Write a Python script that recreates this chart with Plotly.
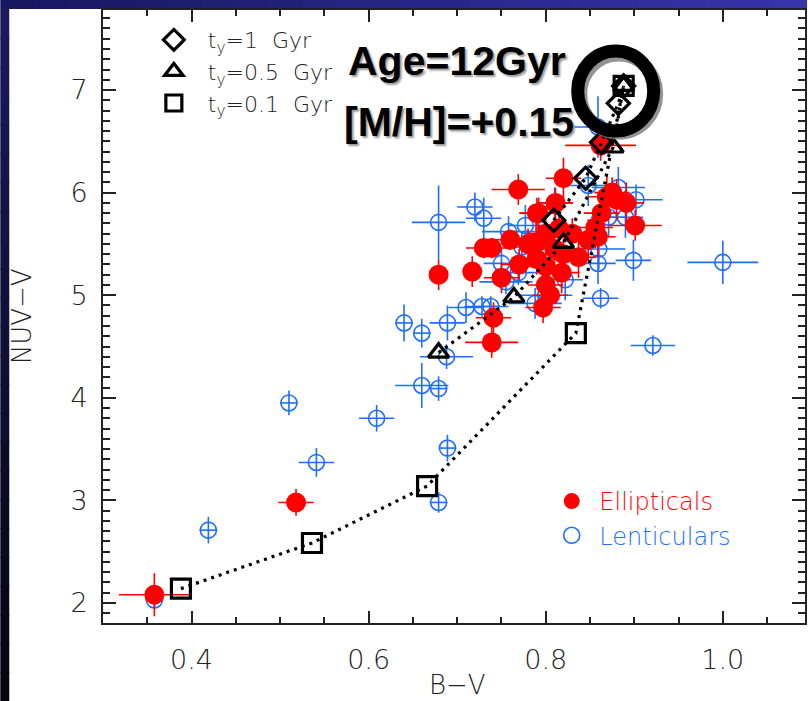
import plotly.graph_objects as go

# ---- observed galaxies: B-V, NUV-V and their 1-sigma errors ----
ell_bv = [0.358, 0.518, 0.679, 0.717, 0.769, 0.750, 0.730, 0.739, 0.760, 0.741,
          0.739, 0.790, 0.797, 0.862, 0.820, 0.880, 0.891, 0.901, 0.863, 0.856,
          0.848, 0.811, 0.792, 0.789, 0.800, 0.818, 0.859, 0.869, 0.837, 0.810,
          0.800, 0.790, 0.820, 0.830, 0.780, 0.800, 0.770, 0.875, 0.815, 0.805]
ell_nuv = [2.08, 2.98, 5.20, 5.23, 6.03, 5.17, 5.46, 5.46, 5.54, 4.78,
           4.54, 5.80, 4.88, 6.46, 6.14, 5.93, 5.90, 5.68, 5.80, 5.66,
           5.54, 5.90, 5.80, 5.51, 5.28, 5.22, 5.57, 5.96, 5.37, 5.45,
           5.60, 5.35, 5.40, 5.60, 5.50, 5.10, 5.30, 6.00, 5.65, 5.00]
ell_bv_err = [0.04, 0.02, 0.01, 0.01, 0.03, 0.02, 0.02, 0.02, 0.03, 0.02,
              0.03, 0.02, 0.02, 0.04, 0.02, 0.02, 0.02, 0.03, 0.02, 0.02,
              0.02, 0.02, 0.02, 0.03, 0.02, 0.02, 0.02, 0.02, 0.02, 0.02,
              0.02, 0.02, 0.02, 0.02, 0.02, 0.02, 0.02, 0.02, 0.02, 0.02]
ell_nuv_err = [0.21, 0.13, 0.15, 0.15, 0.15, 0.15, 0.10, 0.10, 0.10, 0.15,
               0.15, 0.15, 0.15, 0.15, 0.20, 0.20, 0.20, 0.15, 0.20, 0.20,
               0.20, 0.15, 0.15, 0.20, 0.20, 0.20, 0.20, 0.20, 0.20, 0.15,
               0.15, 0.15, 0.15, 0.15, 0.15, 0.15, 0.15, 0.15, 0.15, 0.15]

len_bv = [0.358, 0.419, 0.510, 0.541, 0.609, 0.640, 0.660, 0.689, 0.710, 0.688,
          0.660, 0.679, 0.689, 0.679, 0.679, 0.720, 0.730, 0.728, 0.738, 0.758,
          0.750, 0.755, 0.773, 0.777, 0.788, 0.769, 0.882, 0.902, 0.899, 0.859,
          0.822, 0.862, 0.871, 0.890, 0.859, 1.000, 0.921, 0.848, 0.800, 0.810,
          0.860]
len_nuv = [2.03, 2.71, 3.95, 3.37, 3.80, 4.73, 4.63, 4.73, 4.88, 4.40,
           4.12, 4.09, 3.51, 2.98, 5.71, 5.86, 5.75, 4.89, 4.89, 5.62,
           5.31, 5.13, 5.47, 5.68, 4.92, 5.22, 6.05, 5.93, 5.34, 5.31,
           5.15, 4.97, 5.76, 5.76, 6.64, 5.32, 4.51, 6.07, 5.00, 5.90,
           5.45]
len_bv_err = [0.01, 0.01, 0.01, 0.02, 0.02, 0.01, 0.01, 0.02, 0.02, 0.03,
              0.03, 0.01, 0.01, 0.01, 0.03, 0.02, 0.02, 0.02, 0.02, 0.03,
              0.02, 0.03, 0.02, 0.02, 0.03, 0.02, 0.03, 0.03, 0.02, 0.02,
              0.02, 0.02, 0.02, 0.02, 0.03, 0.04, 0.025, 0.02, 0.03, 0.02,
              0.03]
len_nuv_err = [0.08, 0.13, 0.12, 0.14, 0.13, 0.18, 0.14, 0.17, 0.15, 0.12,
               0.22, 0.12, 0.13, 0.10, 0.36, 0.14, 0.20, 0.10, 0.10, 0.15,
               0.15, 0.12, 0.15, 0.20, 0.15, 0.12, 0.20, 0.15, 0.20, 0.20,
               0.20, 0.10, 0.20, 0.20, 0.30, 0.21, 0.10, 0.20, 0.10, 0.15,
               0.20]

# ---- model tracks: 12 Gyr, [M/H]=+0.15 old population plus a young burst ----
trk1_bv = [0.809, 0.845, 0.863, 0.882, 0.888]    # t_y = 1 Gyr
trk1_nuv = [5.73, 6.14, 6.49, 6.87, 7.04]
trk05_bv = [0.679, 0.764, 0.820, 0.876, 0.888]   # t_y = 0.5 Gyr
trk05_nuv = [4.44, 4.98, 5.51, 6.44, 7.04]
trk01_bv = [0.388, 0.536, 0.666, 0.834, 0.888]   # t_y = 0.1 Gyr
trk01_nuv = [2.14, 2.585, 3.14, 4.63, 7.04]

# pure old-population point that the tracks converge to
old_bv, old_nuv = 0.879, 6.99

RED = "#ff0000"
BLUE = "#1e6eff"
INK = "#222222"
TXT = "DejaVu Sans"
NB = "\u00a0"

fig = go.Figure()

fig.add_trace(go.Scatter(
    x=len_bv, y=len_nuv, mode="markers",
    name=f"{NB}<span style='color:{BLUE}'>Lenticulars</span>",
    legend="legend2",
    marker=dict(symbol="circle-open", size=16, color=BLUE, line=dict(width=1.6, color=BLUE)),
    error_x=dict(type="data", array=len_bv_err, color=BLUE, thickness=1.6, width=0),
    error_y=dict(type="data", array=len_nuv_err, color=BLUE, thickness=1.6, width=0),
))
fig.add_trace(go.Scatter(
    x=ell_bv, y=ell_nuv, mode="markers",
    name=f"{NB}<span style='color:{RED}'>Ellipticals</span>",
    legend="legend2",
    marker=dict(symbol="circle", size=20, color=RED, line=dict(width=0)),
    error_x=dict(type="data", array=ell_bv_err, color=RED, thickness=1.6, width=0),
    error_y=dict(type="data", array=ell_nuv_err, color=RED, thickness=1.6, width=0),
))

tracks = [
    (trk1_bv, trk1_nuv, "diamond-open", 17, f"{NB*2}t<sub>y</sub>=1{NB*2}Gyr"),
    (trk05_bv, trk05_nuv, "triangle-up-open", 18, f"{NB*2}t<sub>y</sub>=0.5{NB*2}Gyr"),
    (trk01_bv, trk01_nuv, "square-open", 19, f"{NB*2}t<sub>y</sub>=0.1{NB*2}Gyr"),
]
for bv, nuv, sym, sz, label in tracks:
    fig.add_trace(go.Scatter(
        x=bv, y=nuv, mode="lines", showlegend=False,
        line=dict(color="black", width=3.2, dash="3px,5px"),
    ))
for bv, nuv, sym, sz, label in tracks:
    fig.add_trace(go.Scatter(
        x=bv, y=nuv, mode="markers", name=label, legend="legend",
        marker=dict(symbol=sym, size=sz, color="black", line=dict(width=3.2, color="black")),
    ))

# slide background: white panel framed by blue bands
def px_x(p):
    return (p - 103) / 704.0

def px_y(p):
    return (623 - p) / 613.0

shapes = []
n = 24
for i in range(n):
    t = i / (n - 1)
    r = int(24 + t * (54 - 24)); g = int(24 + t * (52 - 24)); b = int(96 + t * (170 - 96))
    shapes.append(dict(type="rect", xref="paper", yref="paper", layer="below",
                       x0=px_x(808 * i / n), x1=px_x(808 * (i + 1) / n + 1),
                       y0=px_y(9), y1=px_y(0), line=dict(width=0),
                       fillcolor=f"rgb({r},{g},{b})"))
for i in range(n):
    t = i / (n - 1)
    r = int(26 - t * 21); g = int(26 - t * 21); b = int(92 - t * 76)
    shapes.append(dict(type="rect", xref="paper", yref="paper", layer="below",
                       x0=px_x(0), x1=px_x(9),
                       y0=px_y(9 + 692 * (i + 1) / n + 1), y1=px_y(9 + 692 * i / n),
                       line=dict(width=0), fillcolor=f"rgb({r},{g},{b})"))

# highlight ring around the old-population point (with soft shadow)
shapes.append(dict(type="circle", xref="x", yref="y", xsizemode="pixel", ysizemode="pixel",
                   xanchor=old_bv, yanchor=old_nuv, x0=-35, x1=41, y0=-42, y1=36,
                   line=dict(color="rgba(120,120,120,0.8)", width=13), layer="above"))
shapes.append(dict(type="circle", xref="x", yref="y", xsizemode="pixel", ysizemode="pixel",
                   xanchor=old_bv, yanchor=old_nuv, x0=-38, x1=38, y0=-40, y1=40,
                   line=dict(color="black", width=13), layer="above"))

annotations = [
    dict(text="Age=12Gyr", xref="paper", yref="paper", x=px_x(458), y=px_y(61),
         xanchor="center", yanchor="middle", showarrow=False,
         font=dict(family="Liberation Sans", size=41, color="black", weight="bold",
                   shadow="2px 2px 2px #999")),
    dict(text="[M/H]=+0.15", xref="paper", yref="paper", x=px_x(460), y=px_y(122),
         xanchor="center", yanchor="middle", showarrow=False,
         font=dict(family="Liberation Sans", size=41, color="black", weight="bold",
                   shadow="2px 2px 2px #999")),
    dict(text="B\u2212V", xref="paper", yref="paper", x=px_x(459), y=px_y(685),
         xanchor="center", yanchor="middle", showarrow=False,
         font=dict(family=TXT, size=26, color=INK, weight=200)),
    dict(text="NUV\u2212V", xref="paper", yref="paper", x=px_x(22), y=px_y(316),
         xanchor="center", yanchor="middle", showarrow=False, textangle=-90,
         font=dict(family=TXT, size=26, color=INK, weight=200)),
]

axis_common = dict(
    showgrid=False, zeroline=False, showline=True, linecolor=INK, linewidth=2,
    mirror="allticks", ticks="inside", tickcolor=INK, tickwidth=1.6,
    tickfont=dict(family=TXT, size=27, color=INK, weight=200),
)

fig.update_layout(
    width=808, height=701,
    margin=dict(l=103, r=1, t=10, b=78),
    paper_bgcolor="white", plot_bgcolor="white",
    xaxis=dict(range=[0.3, 1.0928], tick0=0.4, dtick=0.2, tickformat=".1f", ticklen=12,
               minor=dict(dtick=0.05, ticks="inside", ticklen=6, tickcolor=INK, tickwidth=1.6),
               ticklabelstandoff=12, **axis_common),
    yaxis=dict(range=[1.805, 7.78], tick0=0, dtick=1, ticklen=13,
               minor=dict(dtick=0.1, ticks="inside", ticklen=7, tickcolor=INK, tickwidth=1.6),
               ticklabelstandoff=8, **axis_common),
    legend=dict(x=px_x(154), y=px_y(19), xanchor="left", yanchor="top",
                bgcolor="rgba(0,0,0,0)", tracegroupgap=0, itemsizing="trace",
                font=dict(family=TXT, size=22, color=INK, weight=200)),
    legend2=dict(x=px_x(553), y=px_y(479), xanchor="left", yanchor="top",
                 bgcolor="rgba(0,0,0,0)", traceorder="reversed", itemsizing="trace",
                 font=dict(family=TXT, size=24, color=INK, weight=200)),
    shapes=shapes,
    annotations=annotations,
)

fig.write_html("out.html")
